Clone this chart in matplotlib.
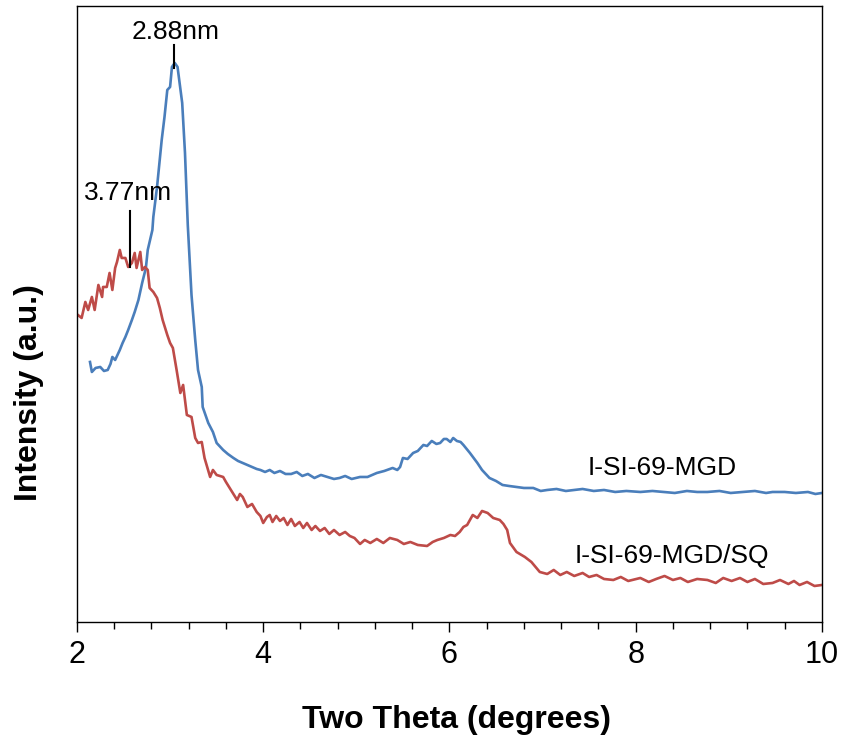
import matplotlib
matplotlib.use('Agg')
import matplotlib.pyplot as plt
from matplotlib.ticker import MultipleLocator

plt.rcParams['font.family'] = ['Liberation Sans', 'DejaVu Sans']

# I-SI-69-MGD (blue)
mgd_x = [2.14, 2.16, 2.20, 2.25, 2.29, 2.33, 2.36, 2.38, 2.41, 2.44, 2.46, 2.49, 2.52, 2.55,
         2.59, 2.62, 2.66, 2.70, 2.74, 2.76, 2.81, 2.82, 2.86, 2.91, 2.94, 2.97, 3.00, 3.02,
         3.05, 3.08, 3.13, 3.16, 3.19, 3.23, 3.27, 3.30, 3.34, 3.35, 3.41, 3.46, 3.50, 3.53,
         3.57, 3.62, 3.68, 3.73, 3.78, 3.83, 3.88, 3.93, 3.97, 4.02, 4.07, 4.12, 4.18, 4.24,
         4.30, 4.36, 4.42, 4.48, 4.55, 4.62, 4.69, 4.76, 4.82, 4.88, 4.95, 5.04, 5.12, 5.22,
         5.30, 5.39, 5.44, 5.47, 5.50, 5.55, 5.61, 5.66, 5.72, 5.76, 5.81, 5.86, 5.90, 5.94,
         5.97, 6.01, 6.04, 6.08, 6.12, 6.15, 6.22, 6.30, 6.35, 6.43, 6.50, 6.57, 6.64, 6.72,
         6.80, 6.90, 6.98, 7.05, 7.15, 7.25, 7.34, 7.43, 7.55, 7.66, 7.78, 7.90, 8.05, 8.18,
         8.30, 8.42, 8.55, 8.66, 8.77, 8.90, 9.02, 9.15, 9.28, 9.40, 9.47, 9.60, 9.72, 9.85,
         9.93, 10.0]
mgd_y = [260, 250, 254, 255, 251, 252, 258, 265, 262, 268, 272, 279, 285, 292,
         302, 310, 322, 339, 354, 372, 392, 405, 435, 482, 505, 532, 535, 555,
         559, 555, 519, 469, 397, 327, 282, 252, 235, 215, 199, 190, 179, 176,
         172, 168, 164, 161, 159, 157, 155, 153, 152, 150, 152, 149, 151, 148,
         148, 150, 146, 148, 144, 147, 145, 143, 144, 146, 143, 145, 145, 149,
         151, 154, 152, 155, 164, 163, 169, 171, 177, 176, 181, 178, 179, 183,
         183, 180, 184, 181, 180, 177, 169, 159, 152, 144, 141, 137, 136, 135,
         134, 134, 131, 132, 133, 131, 132, 133, 131, 132, 130, 131, 130, 131,
         130, 129, 131, 130, 130, 131, 129, 130, 131, 129, 130, 130, 129, 130,
         128, 129]

# I-SI-69-MGD/SQ (red)
sq_x = [2.01, 2.05, 2.09, 2.12, 2.16, 2.19, 2.23, 2.27, 2.28, 2.32, 2.35, 2.38, 2.41, 2.43,
        2.46, 2.48, 2.52, 2.55, 2.59, 2.62, 2.64, 2.68, 2.70, 2.73, 2.76, 2.78, 2.82, 2.86,
        2.89, 2.92, 2.97, 3.00, 3.03, 3.07, 3.11, 3.14, 3.18, 3.23, 3.27, 3.30, 3.34, 3.37,
        3.43, 3.46, 3.50, 3.57, 3.60, 3.64, 3.68, 3.72, 3.75, 3.78, 3.83, 3.88, 3.93, 3.97,
        4.00, 4.04, 4.07, 4.10, 4.14, 4.18, 4.22, 4.26, 4.30, 4.34, 4.39, 4.43, 4.47, 4.52,
        4.56, 4.61, 4.66, 4.71, 4.76, 4.82, 4.88, 4.93, 4.98, 5.04, 5.09, 5.15, 5.22, 5.29,
        5.36, 5.44, 5.51, 5.58, 5.66, 5.76, 5.82, 5.87, 5.94, 6.01, 6.06, 6.11, 6.15, 6.19,
        6.25, 6.30, 6.35, 6.41, 6.47, 6.54, 6.58, 6.62, 6.65, 6.72, 6.81, 6.88, 6.97, 7.05,
        7.12, 7.19, 7.26, 7.34, 7.43, 7.50, 7.58, 7.66, 7.76, 7.84, 7.92, 8.05, 8.14, 8.22,
        8.31, 8.40, 8.48, 8.56, 8.66, 8.77, 8.86, 8.94, 9.03, 9.12, 9.20, 9.28, 9.37, 9.47,
        9.55, 9.64, 9.70, 9.76, 9.84, 9.92, 10.0]
sq_y = [307, 304, 320, 312, 325, 312, 337, 325, 335, 335, 349, 332, 354, 360,
        372, 364, 364, 355, 359, 369, 354, 370, 352, 355, 352, 334, 330, 324,
        314, 302, 287, 279, 274, 252, 229, 237, 207, 205, 184, 179, 180, 164,
        145, 152, 147, 145, 140, 134, 128, 122, 128, 125, 115, 118, 110, 106,
        99, 105, 107, 100, 106, 101, 104, 97, 103, 96, 100, 94, 99, 92,
        96, 91, 94, 88, 92, 87, 90, 86, 84, 78, 82, 79, 83, 79,
        84, 82, 78, 80, 77, 76, 80, 82, 84, 87, 86, 90, 95, 97,
        107, 104, 111, 109, 104, 102, 98, 92, 79, 70, 65, 60, 50, 48,
        52, 47, 50, 46, 49, 45, 47, 43, 42, 45, 41, 44, 40, 43,
        46, 42, 44, 40, 43, 42, 39, 44, 41, 44, 40, 43, 38, 39,
        42, 38, 41, 37, 40, 36, 37]

fig = plt.figure(figsize=(8.43, 7.44), dpi=100)
ax = fig.add_axes([0.0913, 0.164, 0.8837, 0.828])

ax.plot(mgd_x, mgd_y, color='#4A7EBB', linewidth=1.9)
ax.plot(sq_x, sq_y, color='#BE4B48', linewidth=1.9)

ax.set_xlim(2, 10)
ax.set_ylim(0, 616)
ax.xaxis.set_major_locator(MultipleLocator(2))
ax.xaxis.set_minor_locator(MultipleLocator(0.4))
ax.tick_params(axis='x', which='major', direction='out', length=7, width=1, labelsize=22, pad=6)
ax.tick_params(axis='x', which='minor', direction='out', length=5, width=1)
ax.set_yticks([])
for s in ax.spines.values():
    s.set_linewidth(1)

# peak marks
ax.plot([3.04, 3.04], [554, 577], color='black', linewidth=1.5)
ax.text(3.06, 590, '2.88nm', ha='center', va='center', fontsize=19)
ax.plot([2.57, 2.57], [355, 411], color='black', linewidth=1.5)
ax.text(2.55, 429, '3.77nm', ha='center', va='center', fontsize=19)

ax.text(8.28, 154, 'I-SI-69-MGD', ha='center', va='center', fontsize=19)
ax.text(8.39, 66, 'I-SI-69-MGD/SQ', ha='center', va='center', fontsize=19)

fig.text(456 / 843, 1 - 720 / 744, 'Two Theta (degrees)', ha='center', va='center',
         fontsize=23, fontweight='bold')
fig.text(29 / 843, 1 - 393 / 744, 'Intensity (a.u.)', ha='center', va='center',
         rotation=90, fontsize=23, fontweight='bold')

fig.savefig('out.png', dpi=100)
